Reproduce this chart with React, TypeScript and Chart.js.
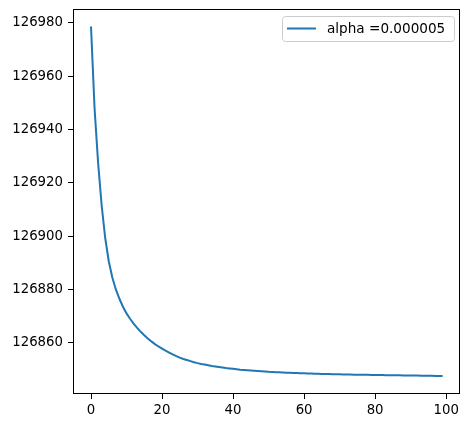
import React, { useEffect, useRef } from "react";
import { Chart, registerables } from "chart.js";

Chart.register(...registerables);

const seriesLabel = "alpha =0.000005";

const costValues: number[] = [
  126978.7, 126948.0, 126927.5, 126911.5, 126899.3, 126890.6, 126884.5, 126880.0, 126876.5, 126873.5,
  126871.0, 126869.0, 126867.2, 126865.6, 126864.1, 126862.8, 126861.6, 126860.5, 126859.5, 126858.6,
  126857.8, 126857.0, 126856.3, 126855.6, 126855.0, 126854.4, 126853.9, 126853.5, 126853.1, 126852.7,
  126852.35, 126852.05, 126851.8, 126851.55, 126851.3, 126851.1, 126850.9, 126850.7, 126850.5, 126850.35,
  126850.2, 126850.05, 126849.9, 126849.8, 126849.7, 126849.6, 126849.5, 126849.4, 126849.3, 126849.2,
  126849.1, 126849.03, 126848.96, 126848.9, 126848.84, 126848.78, 126848.72, 126848.66, 126848.61, 126848.56,
  126848.51, 126848.47, 126848.43, 126848.39, 126848.35, 126848.31, 126848.27, 126848.24, 126848.21, 126848.18,
  126848.15, 126848.12, 126848.09, 126848.06, 126848.03, 126848.0, 126847.98, 126847.96, 126847.94, 126847.92,
  126847.9, 126847.88, 126847.86, 126847.84, 126847.82, 126847.8, 126847.78, 126847.76, 126847.74, 126847.72,
  126847.7, 126847.68, 126847.66, 126847.64, 126847.62, 126847.6, 126847.58, 126847.56, 126847.54, 126847.52,
];

const xTickValues = [0, 20, 40, 60, 80, 100];
const yTickValues = [126860, 126880, 126900, 126920, 126940, 126960, 126980];

const FONT = "DejaVu Sans";
const LINE_COLOR = "#1f77b4";

const framePlugin = {
  id: "frameAndLegend",
  afterDraw(chart: any) {
    const { ctx, chartArea } = chart;
    ctx.save();
    ctx.strokeStyle = "#000";
    ctx.lineWidth = 1;
    ctx.strokeRect(
      Math.round(chartArea.left) + 0.5,
      Math.round(chartArea.top) + 0.5,
      Math.round(chartArea.right - chartArea.left) - 1,
      Math.round(chartArea.bottom - chartArea.top) - 1
    );
    const bx = 282.5, by = 16.5, bw = 172, bh = 25, r = 3;
    ctx.beginPath();
    ctx.moveTo(bx + r, by);
    ctx.lineTo(bx + bw - r, by);
    ctx.quadraticCurveTo(bx + bw, by, bx + bw, by + r);
    ctx.lineTo(bx + bw, by + bh - r);
    ctx.quadraticCurveTo(bx + bw, by + bh, bx + bw - r, by + bh);
    ctx.lineTo(bx + r, by + bh);
    ctx.quadraticCurveTo(bx, by + bh, bx, by + bh - r);
    ctx.lineTo(bx, by + r);
    ctx.quadraticCurveTo(bx, by, bx + r, by);
    ctx.closePath();
    ctx.fillStyle = "rgba(255,255,255,0.8)";
    ctx.fill();
    ctx.strokeStyle = "#cccccc";
    ctx.lineWidth = 1;
    ctx.stroke();
    ctx.beginPath();
    ctx.moveTo(287, 28.5);
    ctx.lineTo(316, 28.5);
    ctx.strokeStyle = LINE_COLOR;
    ctx.lineWidth = 2;
    ctx.stroke();
    ctx.fillStyle = "#000";
    ctx.font = `13.6px "${FONT}"`;
    ctx.textBaseline = "middle";
    ctx.textAlign = "left";
    ctx.fillText(chart.data.datasets[0].label, 327, 29);
    ctx.restore();
  },
};

export default function App() {
  const canvasRef = useRef<HTMLCanvasElement | null>(null);

  useEffect(() => {
    if (!canvasRef.current) return;
    const chart = new Chart(canvasRef.current, {
      type: "line",
      data: {
        datasets: [
          {
            label: seriesLabel,
            data: costValues.map((v, i) => ({ x: i, y: v })),
            borderColor: LINE_COLOR,
            backgroundColor: LINE_COLOR,
            borderWidth: 2,
            pointRadius: 0,
            tension: 0,
            fill: false,
          },
        ],
      },
      options: {
        animation: false,
        responsive: true,
        maintainAspectRatio: false,
        layout: { padding: { top: 9, right: 10, left: 0, bottom: 0 } },
        plugins: {
          legend: { display: false },
          tooltip: { enabled: false },
        },
        scales: {
          x: {
            type: "linear",
            min: -5.07,
            max: 103.9,
            afterBuildTicks: (scale: any) => {
              scale.ticks = xTickValues.map((v) => ({ value: v }));
            },
            afterFit: (scale: any) => {
              scale.height = 34;
              scale.paddingLeft = 0;
              scale.paddingRight = 0;
            },
            grid: {
              drawOnChartArea: false,
              drawTicks: true,
              tickLength: 5,
              tickColor: "#000",
              tickWidth: 1,
            },
            border: { display: false },
            ticks: {
              color: "#000",
              font: { family: FONT, size: 13.3 },
              padding: 4,
              maxRotation: 0,
              autoSkip: false,
              callback: (v: any) => String(v),
            },
          },
          y: {
            type: "linear",
            min: 126840.76,
            max: 126985.25,
            afterBuildTicks: (scale: any) => {
              scale.ticks = yTickValues.map((v) => ({ value: v }));
            },
            afterFit: (scale: any) => {
              scale.width = 73;
              scale.paddingTop = 0;
              scale.paddingBottom = 0;
            },
            grid: {
              drawOnChartArea: false,
              drawTicks: true,
              tickLength: 5,
              tickColor: "#000",
              tickWidth: 1,
            },
            border: { display: false },
            ticks: {
              color: "#000",
              font: { family: FONT, size: 13.3 },
              padding: 5,
              autoSkip: false,
              callback: (v: any) => String(v),
            },
          },
        },
      },
      plugins: [framePlugin],
    });
    return () => chart.destroy();
  }, []);

  return (
    <div style={{ position: "absolute", left: 0, top: 0, width: 470, height: 428, background: "#fff" }}>
      <canvas ref={canvasRef} />
    </div>
  );
}
